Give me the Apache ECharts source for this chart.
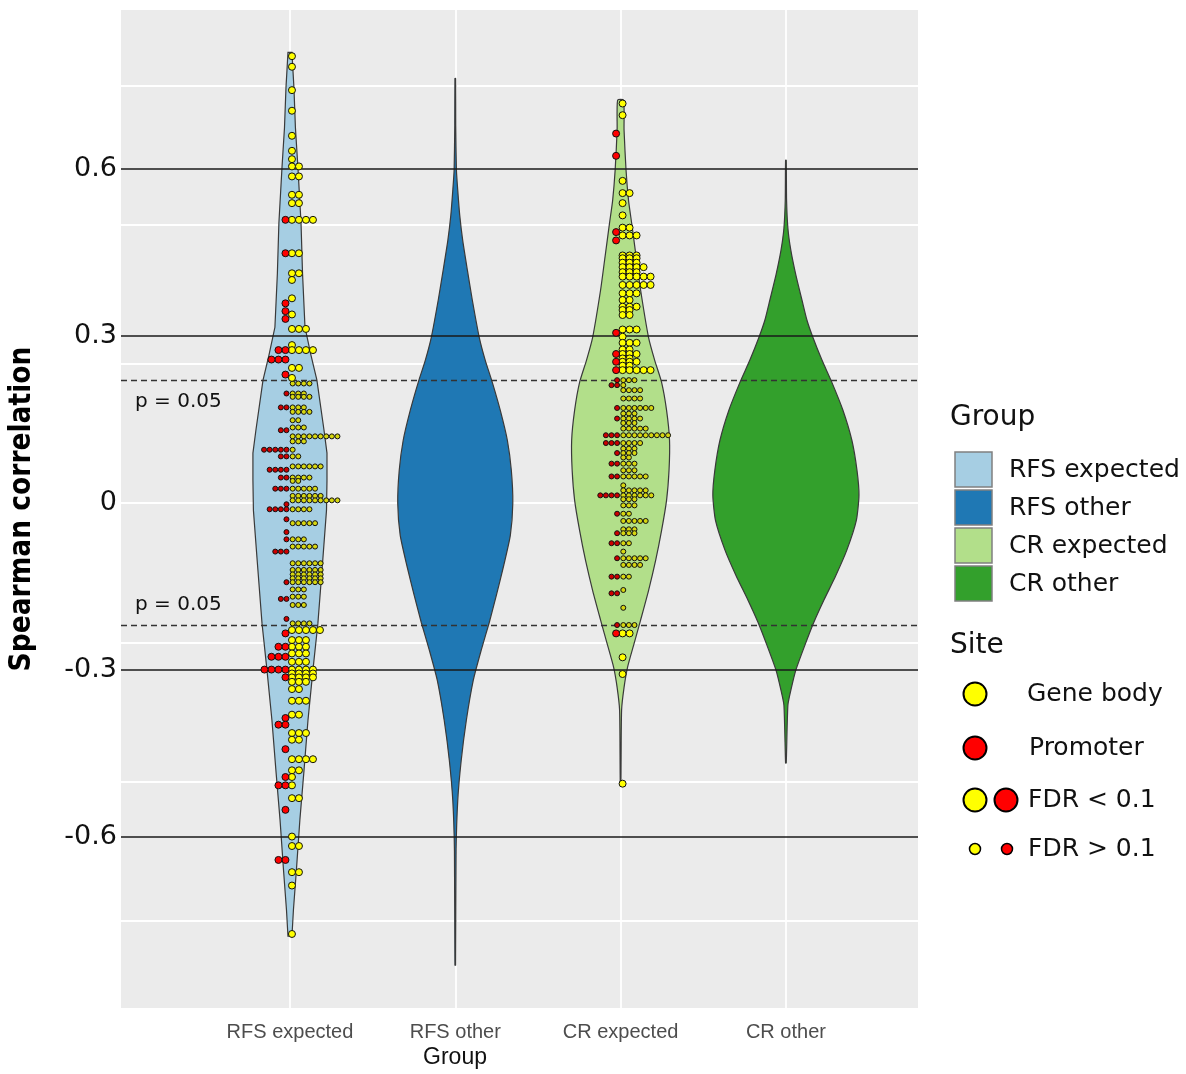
<!DOCTYPE html>
<html>
<head>
<meta charset="utf-8">
<script src="https://cdn.jsdelivr.net/npm/echarts@6/dist/echarts.min.js"></script>
<style>
html, body { margin: 0; padding: 0; background: #fff; }
#chart { width: 1186px; height: 1074px; }
</style>
</head>
<body>
<div id="chart"></div>
<script>
const groups = ['RFS expected', 'RFS other', 'CR expected', 'CR other'];
const groupColors = ['#a6cee3', '#1f78b4', '#b2df8a', '#33a02c'];
const yTicks = [-0.6, -0.3, 0, 0.3, 0.6];
const gridBreaks = [-0.75, -0.5, -0.25, 0, 0.25, 0.5, 0.75];
const refLines = [-0.6, -0.3, 0.3, 0.6];
const pCutoff = 0.217;

// violin outline: [correlation, half width in category units]
const violinRfsExp = [[0.810,0.012],[0.778,0.018],[0.747,0.024],[0.675,0.033],[0.604,0.048],[0.503,0.067],[0.413,0.076],[0.316,0.091],[0.266,0.127],[0.221,0.163],[0.131,0.206],[0.090,0.224],[0.041,0.224],[-0.013,0.221],[-0.108,0.197],[-0.216,0.169],[-0.300,0.139],[-0.390,0.109],[-0.480,0.085],[-0.569,0.060],[-0.659,0.039],[-0.731,0.021],[-0.778,0.012]];
const violinRfsOther = [[0.763,0.002],[0.679,0.003],[0.598,0.007],[0.562,0.015],[0.517,0.027],[0.472,0.045],[0.419,0.073],[0.365,0.103],[0.298,0.145],[0.257,0.181],[0.217,0.224],[0.167,0.272],[0.113,0.315],[0.059,0.339],[0,0.348],[-0.058,0.333],[-0.112,0.293],[-0.166,0.248],[-0.214,0.206],[-0.264,0.157],[-0.318,0.109],[-0.390,0.067],[-0.462,0.036],[-0.534,0.015],[-0.624,0.005],[-0.830,0.002]];
const violinCrExp = [[0.724,0.018],[0.670,0.021],[0.598,0.033],[0.544,0.048],[0.503,0.067],[0.436,0.097],[0.383,0.121],[0.298,0.169],[0.257,0.206],[0.217,0.248],[0.167,0.278],[0.113,0.296],[0.059,0.293],[0.005,0.278],[-0.049,0.248],[-0.103,0.212],[-0.157,0.169],[-0.210,0.121],[-0.255,0.079],[-0.295,0.042],[-0.331,0.021],[-0.372,0.006],[-0.503,0.002]];
const violinCrOther = [[0.616,0.002],[0.544,0.004],[0.494,0.012],[0.454,0.030],[0.410,0.060],[0.365,0.097],[0.329,0.127],[0.298,0.163],[0.257,0.218],[0.217,0.278],[0.167,0.345],[0.113,0.399],[0.059,0.430],[0.014,0.442],[-0.031,0.426],[-0.084,0.369],[-0.130,0.302],[-0.174,0.230],[-0.214,0.169],[-0.255,0.115],[-0.300,0.060],[-0.336,0.030],[-0.363,0.012],[-0.467,0.002]];

// dot rows: [correlation, n gene body, n promoter]
const rfsBig = [[0.803,1,0],[0.784,1,0],[0.742,1,0],[0.705,1,0],[0.660,1,0],[0.633,1,0],[0.618,1,0],[0.605,2,0],[0.587,2,0],[0.554,2,0],[0.539,2,0],[0.509,4,1],[0.449,2,1],[0.413,2,0],[0.401,1,0],[0.368,1,0],[0.359,0,1],[0.345,0,1],[0.339,1,0],[0.331,0,1],[0.313,3,0],[0.284,1,0],[0.275,4,2],[0.258,0,3],[0.243,2,0],[0.231,0,1],[0.225,1,0],
  [-0.228,5,0],[-0.234,0,1],[-0.246,3,0],[-0.258,3,2],[-0.270,3,0],[-0.276,0,3],[-0.285,3,0],[-0.299,4,4],[-0.306,4,0],[-0.313,4,1],[-0.321,3,0],[-0.334,2,0],[-0.355,3,0],[-0.380,2,0],[-0.386,0,1],[-0.398,0,2],[-0.413,3,0],[-0.425,2,0],[-0.442,0,1],[-0.460,4,0],[-0.480,2,0],[-0.492,1,1],[-0.507,1,2],[-0.530,2,0],[-0.551,0,1],[-0.599,1,0],[-0.616,2,0],[-0.641,0,2],[-0.663,2,0],[-0.687,1,0],[-0.774,1,0]];
const rfsSmall = [[0.215,4,0],[0.197,3,1],[0.191,4,0],[0.172,3,2],[0.164,4,0],[0.149,2,0],[0.136,3,0],[0.131,0,2],[0.120,9,0],[0.111,3,0],[0.096,1,5],[0.084,2,2],[0.066,6,0],[0.060,0,4],[0.046,4,2],[0.040,2,0],[0.026,5,3],[0.013,6,0],[0.005,9,0],[-0.002,0,1],[-0.011,4,4],[-0.029,0,1],[-0.036,5,0],[-0.052,0,1],[-0.065,3,1],[-0.078,5,0],[-0.087,0,3],[-0.108,6,0],[-0.120,6,0],[-0.128,6,0],[-0.135,6,0],[-0.142,6,1],[-0.155,3,0],[-0.168,3,0],[-0.172,0,2],[-0.183,3,0],[-0.208,0,1],[-0.216,4,0]];
const crBig = [[0.718,1,0],[0.697,1,0],[0.664,0,1],[0.624,0,1],[0.579,1,0],[0.557,2,0],[0.539,1,0],[0.517,1,0],[0.495,2,0],[0.487,0,1],[0.481,3,0],[0.472,0,1],[0.445,3,0],[0.440,3,0],[0.432,3,0],[0.424,4,0],[0.415,3,0],[0.407,5,0],[0.392,5,0],[0.377,3,0],[0.365,2,0],[0.353,3,0],[0.347,2,0],[0.338,2,0],[0.312,3,0],[0.306,0,1],[0.299,1,0],[0.288,3,0],[0.276,2,0],[0.268,3,1],[0.260,2,0],[0.254,3,1],[0.247,2,0],[0.239,5,1],
  [-0.234,2,1],[-0.277,1,0],[-0.307,1,0],[-0.504,1,0]];
const crSmall = [[0.221,3,1],[0.212,1,2],[0.203,4,0],[0.188,4,0],[0.171,6,1],[0.161,3,0],[0.152,4,1],[0.144,3,0],[0.134,5,0],[0.122,9,3],[0.108,4,3],[0.098,3,0],[0.090,3,1],[0.082,2,0],[0.071,3,2],[0.059,3,0],[0.048,5,2],[0.032,1,0],[0.023,5,0],[0.014,6,4],[0.007,3,0],[-0.004,3,0],[-0.019,2,1],[-0.032,5,0],[-0.047,3,0],[-0.054,3,1],[-0.072,2,2],[-0.087,1,0],[-0.099,5,1],[-0.111,4,0],[-0.132,2,2],[-0.156,1,0],[-0.162,0,2],[-0.188,1,0],[-0.219,3,1]];

const chart = echarts.init(document.getElementById('chart'));

function stackDots(rows, center, yFirst, rFirst, step) {
  const yellow = [], red = [];
  rows.forEach(([v, ny, nr]) => {
    for (let i = 0; i < ny; i++) yellow.push({ value: [center, v], symbolOffset: [yFirst + i * step, 0] });
    for (let i = 0; i < nr; i++) red.push({ value: [center, v], symbolOffset: [rFirst - i * step, 0] });
  });
  return { yellow, red };
}
const big = [stackDots(rfsBig, 1, 2, -4.5, 7), stackDots(crBig, 3, 2, -4.5, 7)];
const small = [stackDots(rfsSmall, 1, 2.7, -3.5, 5.6), stackDots(crSmall, 3, 2.7, -3.5, 5.6)];

function violin(idx, profile, smooth) {
  return {
    type: 'custom',
    name: groups[idx],
    z: 3,
    silent: true,
    data: [[idx + 1, 0]],
    renderItem: (params, api) => {
      const c = idx + 1;
      const right = profile.map(([v, w]) => api.coord([c + w, v]));
      const left = profile.slice().reverse().map(([v, w]) => api.coord([c - w, v]));
      const shape = { points: right.concat(left) };
      if (smooth) shape.smooth = smooth;
      return {
        type: 'polygon',
        shape: shape,
        style: { fill: groupColors[idx], stroke: '#3a3a3a', lineWidth: 1.2 }
      };
    }
  };
}

function dotSeries(data, size, color) {
  return {
    type: 'scatter',
    z: 6,
    silent: true,
    symbol: 'circle',
    symbolSize: size,
    data: data,
    itemStyle: { color: color, borderColor: '#111', borderWidth: 1, opacity: 1 }
  };
}

const pLabel = { show: true, formatter: 'p = 0.05', color: '#111', fontSize: 20, fontFamily: 'DejaVu Sans' };

const option = {
  animation: false,
  backgroundColor: '#fff',
  grid: { left: 121, top: 10, width: 797, height: 998, show: true, backgroundColor: '#ebebeb', borderWidth: 0, outerBoundsMode: 'none' },
  xAxis: {
    type: 'value', min: -0.022, max: 4.799,
    splitLine: { show: false },
    axisLine: { show: false },
    axisTick: { show: true, customValues: [1, 2, 3, 4], length: 5, lineStyle: { color: '#333', width: 1.3 } },
    axisLabel: { customValues: [1, 2, 3, 4], formatter: v => groups[v - 1], fontSize: 20, color: '#4d4d4d', fontFamily: 'Liberation Sans', margin: 14 }
  },
  yAxis: {
    type: 'value', min: -0.907, max: 0.886,
    splitLine: { show: false },
    axisLine: { show: false },
    axisTick: { show: false },
    axisLabel: { customValues: yTicks, formatter: v => (v === 0 ? '0' : v.toFixed(1)), fontSize: 27, color: '#111', fontFamily: 'DejaVu Sans', margin: 4 },
    name: 'Spearman correlation',
    nameLocation: 'middle',
    nameRotate: 90,
    nameGap: 84,
    nameTextStyle: { fontSize: 29.5, fontWeight: 'bold', fontFamily: 'DejaVu Sans Condensed', color: '#000' }
  },
  series: [
    {
      type: 'line', data: [], z: 1, silent: true,
      markLine: {
        z: 1, silent: true, animation: false, symbol: ['none', 'none'],
        label: { show: false },
        lineStyle: { color: '#ffffff', width: 1.8, type: 'solid' },
        data: gridBreaks.map(v => ({ yAxis: v })).concat([1, 2, 3, 4].map(x => ({ xAxis: x })))
      }
    },
    violin(0, violinRfsExp, 0),
    violin(1, violinRfsOther, 0.2),
    violin(2, violinCrExp, 0.2),
    violin(3, violinCrOther, 0.2),
    {
      type: 'line', data: [], z: 4, silent: true,
      markLine: {
        z: 4, silent: true, animation: false, symbol: ['none', 'none'],
        label: { show: false },
        data: refLines.map(v => ({ yAxis: v, lineStyle: { color: '#1a1a1a', width: 1.5, type: 'solid' } })).concat([
          { yAxis: pCutoff, lineStyle: { color: '#333', width: 1.3, type: [6, 4] }, label: Object.assign({ position: 'insideStartBottom', distance: [14, 11] }, pLabel) },
          { yAxis: -pCutoff, lineStyle: { color: '#333', width: 1.3, type: [6, 4] }, label: Object.assign({ position: 'insideStartTop', distance: [14, 11] }, pLabel) }
        ])
      }
    },
    dotSeries(small[0].yellow.concat(small[1].yellow), 5, '#d6d610'),
    dotSeries(small[0].red.concat(small[1].red), 5, '#cc0000'),
    dotSeries(big[0].yellow.concat(big[1].yellow), 7, '#ffff00'),
    dotSeries(big[0].red.concat(big[1].red), 7, '#ff0000')
  ],
  graphic: [
    { type: 'text', x: 455, y: 1058, style: { text: 'Group', fontSize: 23, fontFamily: 'Liberation Sans', fill: '#111', align: 'center', verticalAlign: 'middle' } },
    { type: 'text', x: 950, y: 418, style: { text: 'Group', fontSize: 28, fontFamily: 'DejaVu Sans', fill: '#111', align: 'left', verticalAlign: 'middle' } },
    ...groups.map((g, i) => ({ type: 'rect', shape: { x: 955, y: 452 + i * 38, width: 37, height: 35 }, style: { fill: groupColors[i], stroke: '#808080', lineWidth: 1.5 } })),
    ...groups.map((g, i) => ({ type: 'text', x: 1009, y: 470 + i * 38, style: { text: g, fontSize: 25, fontFamily: 'DejaVu Sans', fill: '#111', align: 'left', verticalAlign: 'middle' } })),
    { type: 'text', x: 950, y: 646, style: { text: 'Site', fontSize: 28, fontFamily: 'DejaVu Sans', fill: '#111', align: 'left', verticalAlign: 'middle' } },
    { type: 'circle', shape: { cx: 975, cy: 694, r: 11.5 }, style: { fill: '#ffff00', stroke: '#000', lineWidth: 2 } },
    { type: 'text', x: 1027, y: 694, style: { text: 'Gene body', fontSize: 25, fontFamily: 'DejaVu Sans', fill: '#111', align: 'left', verticalAlign: 'middle' } },
    { type: 'circle', shape: { cx: 975, cy: 748, r: 11.5 }, style: { fill: '#ff0000', stroke: '#000', lineWidth: 2 } },
    { type: 'text', x: 1029, y: 748, style: { text: 'Promoter', fontSize: 25, fontFamily: 'DejaVu Sans', fill: '#111', align: 'left', verticalAlign: 'middle' } },
    { type: 'circle', shape: { cx: 975, cy: 800, r: 11.5 }, style: { fill: '#ffff00', stroke: '#000', lineWidth: 2 } },
    { type: 'circle', shape: { cx: 1006, cy: 800, r: 11.5 }, style: { fill: '#ff0000', stroke: '#000', lineWidth: 2 } },
    { type: 'text', x: 1028, y: 800, style: { text: 'FDR < 0.1', fontSize: 25, fontFamily: 'DejaVu Sans', fill: '#111', align: 'left', verticalAlign: 'middle' } },
    { type: 'circle', shape: { cx: 975, cy: 849, r: 5.5 }, style: { fill: '#ffff00', stroke: '#000', lineWidth: 1.5 } },
    { type: 'circle', shape: { cx: 1007, cy: 849, r: 5.5 }, style: { fill: '#ff0000', stroke: '#000', lineWidth: 1.5 } },
    { type: 'text', x: 1028, y: 849, style: { text: 'FDR > 0.1', fontSize: 25, fontFamily: 'DejaVu Sans', fill: '#111', align: 'left', verticalAlign: 'middle' } }
  ]
};

chart.setOption(option);
</script>
</body>
</html>
